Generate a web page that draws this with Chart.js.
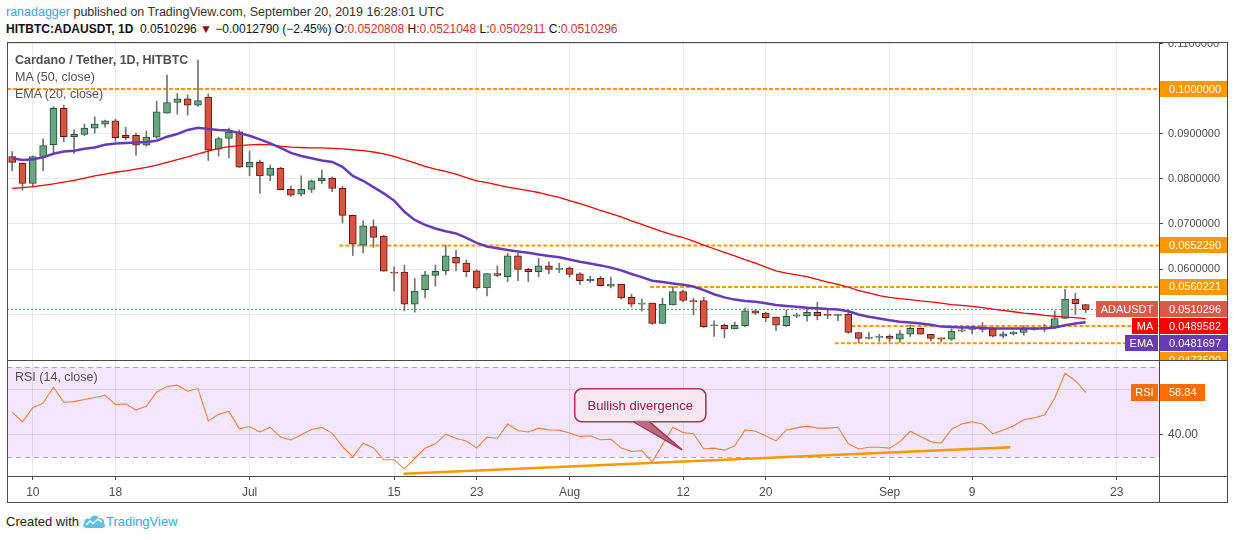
<!DOCTYPE html>
<html>
<head>
<meta charset="UTF-8">
<title>Cardano / Tether, 1D, HITBTC</title>
<script src="https://cdn.jsdelivr.net/npm/chart.js@4.4.1/dist/chart.umd.min.js"></script>
<style>
  body { margin: 0; background: #fff; font-family: "Liberation Sans", Arial, sans-serif; }
  #wrap { position: relative; width: 1234px; height: 540px; overflow: hidden; }
  .abs { position: absolute; white-space: nowrap; }
  .rd { color: #d13535; }
  .line { position: absolute; background: #4a4a4a; z-index: 5; }
  .legend { color: #505050; font-size: 12.5px; z-index: 4; }
  canvas { position: absolute; }
</style>
</head>
<body>
<div id="wrap">
  <div class="abs" style="left:6px;top:5px;font-size:12.5px;color:#333"><span style="color:#3ea6dd">ranadagger</span> published on TradingView.com, September 20, 2019 16:28:01 UTC</div>
  <div class="abs" style="left:6px;top:22px;font-size:12px;color:#111"><b>HITBTC:ADAUSDT, 1D</b>&nbsp; 0.0510296 <span style="color:#8b1010">&#9660;</span> &minus;0.0012790 (&minus;2.45%) O:<span class="rd">0.0520808</span> H:<span class="rd">0.0521048</span> L:<span class="rd">0.0502911</span> C:<span class="rd">0.0510296</span></div>

  <canvas id="priceChart" width="1221" height="318" style="left:7px;top:42px"></canvas>
  <canvas id="rsiChart" width="1221" height="143" style="left:7px;top:360px"></canvas>

  <div class="abs legend" style="left:15px;top:53px;font-weight:bold">Cardano / Tether, 1D, HITBTC</div>
  <div class="abs legend" style="left:15px;top:70px">MA (50, close)</div>
  <div class="abs legend" style="left:15px;top:87px">EMA (20, close)</div>
  <div class="abs legend" style="left:15px;top:370px">RSI (14, close)</div>

  <div class="line" style="left:7px;top:42px;width:1221px;height:1px"></div>
  <div class="line" style="left:7px;top:502px;width:1221px;height:1px"></div>
  <div class="line" style="left:7px;top:42px;width:1px;height:461px"></div>
  <div class="line" style="left:1227px;top:42px;width:1px;height:461px"></div>
  <div class="line" style="left:1159px;top:42px;width:1px;height:461px"></div>
  <div class="line" style="left:7px;top:360px;width:1221px;height:1px"></div>
  <div class="line" style="left:7px;top:476px;width:1221px;height:1px"></div>

  <div class="abs" style="left:6px;top:514px;font-size:13px;color:#222">Created with</div>
  <svg class="abs" style="left:82px;top:513px" width="24" height="16" viewBox="0 0 24 16">
    <path d="M5 15 C1 15 0 11 2.5 9.5 C2 6 5.5 4.5 8 6 C9 2 15 1 17 5 C20.5 4.5 23 7.5 22 10.5 C24 12 23 15 20 15 Z" fill="#5cc0ea"/>
    <path d="M4 12 L8 8 L11 10.5 L16 6 L20 9" stroke="#fff" stroke-width="1.6" fill="none"/>
  </svg>
  <div class="abs" style="left:106px;top:514px;font-size:13px;color:#3ea6dd">TradingView</div>
</div>

<script>
// daily candles, Jun 8 .. Sep 20 2019 (index 0 = Jun 8)
const opens = [
  0.0850, 0.0835, 0.0790, 0.0850, 0.0876, 0.0957, 0.0894, 0.0899, 0.0913, 0.0922,
  0.0929, 0.0897, 0.0897, 0.0875, 0.0893, 0.0946, 0.0970, 0.0978, 0.0964, 0.0982,
  0.0866, 0.0890, 0.0905, 0.0826, 0.0837, 0.0808, 0.0824, 0.0777, 0.0766, 0.0777,
  0.0796, 0.0802, 0.0779, 0.0719, 0.0653, 0.0694, 0.0673, 0.0593, 0.0593, 0.0522,
  0.0554, 0.0586, 0.0596, 0.0626, 0.0613, 0.0596, 0.0558, 0.0590, 0.0583, 0.0629,
  0.0599, 0.0594, 0.0607, 0.0599, 0.0602, 0.0589, 0.0574, 0.0579, 0.0562, 0.0566,
  0.0537, 0.0522, 0.0524, 0.0479, 0.0520, 0.0550, 0.0530, 0.0530, 0.0474, 0.0475,
  0.0467, 0.0474, 0.0507, 0.0502, 0.0493, 0.0474, 0.0495, 0.0496, 0.0504, 0.0499,
  0.0497, 0.0500, 0.0459, 0.0446, 0.0448, 0.0451, 0.0444, 0.0455, 0.0468, 0.0455,
  0.0447, 0.0444, 0.0462, 0.0466, 0.0469, 0.0466, 0.0451, 0.0456, 0.0459, 0.0466,
  0.0468, 0.0470, 0.0490, 0.0533, 0.0520808
];
const highs = [
  0.0861, 0.0836, 0.0851, 0.0889, 0.0961, 0.0964, 0.0909, 0.0922, 0.0938, 0.0931,
  0.0933, 0.0915, 0.0902, 0.0907, 0.0973, 0.1031, 0.0990, 0.0987, 0.1064, 0.0989,
  0.0893, 0.0913, 0.0909, 0.0862, 0.0842, 0.0831, 0.0826, 0.0784, 0.0807, 0.0798,
  0.0820, 0.0805, 0.0784, 0.0720, 0.0707, 0.0709, 0.0675, 0.0605, 0.0609, 0.0579,
  0.0595, 0.0609, 0.0653, 0.0642, 0.0620, 0.0598, 0.0590, 0.0607, 0.0635, 0.0635,
  0.0602, 0.0624, 0.0616, 0.0613, 0.0605, 0.0592, 0.0584, 0.0584, 0.0582, 0.0566,
  0.0544, 0.0533, 0.0524, 0.0535, 0.0561, 0.0553, 0.0535, 0.0537, 0.0485, 0.0478,
  0.0482, 0.0513, 0.0509, 0.0504, 0.0493, 0.0509, 0.0502, 0.0516, 0.0526, 0.0509,
  0.0500, 0.0503, 0.0459, 0.0459, 0.0455, 0.0454, 0.0463, 0.0476, 0.0469, 0.0455,
  0.0447, 0.0467, 0.0473, 0.0473, 0.0481, 0.0471, 0.0461, 0.0462, 0.0474, 0.0470,
  0.0477, 0.0507, 0.0555, 0.0546, 0.0521048
];
const lows = [
  0.0818, 0.0775, 0.0782, 0.0818, 0.0857, 0.0883, 0.0857, 0.0896, 0.0902, 0.0915,
  0.0884, 0.0887, 0.0853, 0.0873, 0.0890, 0.0946, 0.0944, 0.0942, 0.0961, 0.0841,
  0.0851, 0.0846, 0.0826, 0.0807, 0.0768, 0.0796, 0.0776, 0.0761, 0.0762, 0.0770,
  0.0790, 0.0772, 0.0702, 0.0630, 0.0636, 0.0648, 0.0595, 0.0551, 0.0507, 0.0504,
  0.0536, 0.0562, 0.0587, 0.0596, 0.0583, 0.0555, 0.0540, 0.0583, 0.0572, 0.0574,
  0.0572, 0.0583, 0.0589, 0.0592, 0.0582, 0.0566, 0.0570, 0.0562, 0.0558, 0.0533,
  0.0516, 0.0507, 0.0477, 0.0479, 0.0520, 0.0527, 0.0498, 0.0470, 0.0450, 0.0447,
  0.0467, 0.0472, 0.0499, 0.0483, 0.0463, 0.0472, 0.0492, 0.0484, 0.0487, 0.0490,
  0.0485, 0.0457, 0.0436, 0.0444, 0.0439, 0.0438, 0.0437, 0.0450, 0.0455, 0.0440,
  0.0438, 0.0441, 0.0460, 0.0456, 0.0460, 0.0449, 0.0447, 0.0453, 0.0453, 0.0464,
  0.0461, 0.0468, 0.0490, 0.0499, 0.0502911
];
const closes = [
  0.0837, 0.0790, 0.0850, 0.0874, 0.0957, 0.0894, 0.0899, 0.0913, 0.0922, 0.0929,
  0.0892, 0.0892, 0.0875, 0.0893, 0.0949, 0.0970, 0.0978, 0.0964, 0.0974, 0.0864,
  0.0890, 0.0904, 0.0826, 0.0837, 0.0807, 0.0824, 0.0776, 0.0764, 0.0777, 0.0796,
  0.0802, 0.0779, 0.0719, 0.0655, 0.0696, 0.0670, 0.0595, 0.0591, 0.0522, 0.0551,
  0.0587, 0.0595, 0.0629, 0.0613, 0.0594, 0.0558, 0.0590, 0.0586, 0.0629, 0.0599,
  0.0594, 0.0607, 0.0599, 0.0600, 0.0588, 0.0574, 0.0577, 0.0563, 0.0566, 0.0536,
  0.0522, 0.0524, 0.0479, 0.0522, 0.0550, 0.0530, 0.0527, 0.0472, 0.0476, 0.0467,
  0.0475, 0.0507, 0.0502, 0.0492, 0.0475, 0.0495, 0.0498, 0.0504, 0.0496, 0.0497,
  0.0500, 0.0459, 0.0446, 0.0448, 0.0450, 0.0446, 0.0456, 0.0468, 0.0455, 0.0446,
  0.0444, 0.0462, 0.0465, 0.0469, 0.0466, 0.0451, 0.0456, 0.0460, 0.0466, 0.0469,
  0.0470, 0.0490, 0.0533, 0.0523086, 0.0510296
];
const ma50 = [
  0.0779, 0.0781, 0.0783, 0.0786, 0.0789, 0.0793, 0.0797, 0.0802, 0.0807, 0.0811,
  0.0815, 0.0818, 0.0822, 0.0826, 0.0831, 0.0837, 0.0843, 0.0849, 0.0856, 0.0862,
  0.0868, 0.0872, 0.0874, 0.0876, 0.0877, 0.0876, 0.0873, 0.0871, 0.0870, 0.0869,
  0.0869, 0.0868, 0.0867, 0.0865, 0.0863, 0.0860, 0.0856, 0.0850, 0.0843, 0.0836,
  0.0828, 0.0822, 0.0817, 0.0811, 0.0803, 0.0796, 0.0792, 0.0787, 0.0782, 0.0778,
  0.0774, 0.0770, 0.0764, 0.0759, 0.0752, 0.0745, 0.0738, 0.0730, 0.0723, 0.0716,
  0.0707, 0.0699, 0.0691, 0.0683, 0.0676, 0.0670, 0.0662, 0.0653, 0.0645, 0.0637,
  0.0629, 0.0621, 0.0613, 0.0604, 0.0596, 0.0591, 0.0587, 0.0583, 0.0577, 0.0571,
  0.0566, 0.0560, 0.0552, 0.0547, 0.0541, 0.0537, 0.0534, 0.0532, 0.0529, 0.0527,
  0.0524, 0.0521, 0.0519, 0.0517, 0.0514, 0.0511, 0.0508, 0.0505, 0.0502, 0.0500,
  0.0497, 0.0495, 0.0493, 0.0492, 0.0489582
];
const ema20 = [
  0.0846, 0.0842, 0.0844, 0.0848, 0.0856, 0.0861, 0.0863, 0.0867, 0.0870, 0.0876,
  0.0879, 0.0880, 0.0881, 0.0882, 0.0885, 0.0894, 0.0900, 0.0909, 0.0914, 0.0911,
  0.0909, 0.0908, 0.0902, 0.0896, 0.0888, 0.0879, 0.0869, 0.0858, 0.0851, 0.0846,
  0.0841, 0.0838, 0.0827, 0.0807, 0.0796, 0.0782, 0.0768, 0.0752, 0.0727, 0.0709,
  0.0698, 0.0690, 0.0684, 0.0679, 0.0669, 0.0658, 0.0650, 0.0646, 0.0642, 0.0639,
  0.0636, 0.0632, 0.0629, 0.0626, 0.0621, 0.0616, 0.0612, 0.0608, 0.0603, 0.0597,
  0.0589, 0.0582, 0.0574, 0.0571, 0.0568, 0.0565, 0.0561, 0.0553, 0.0544, 0.0537,
  0.0532, 0.0529, 0.0527, 0.0524, 0.0520, 0.0518, 0.0516, 0.0514, 0.0513, 0.0511,
  0.0510, 0.0506, 0.0499, 0.0494, 0.0490, 0.0486, 0.0483, 0.0481, 0.0479, 0.0476,
  0.0472, 0.0471, 0.0470, 0.0470, 0.0469, 0.0468, 0.0468, 0.0468, 0.0468, 0.0468,
  0.0468, 0.0470, 0.0475, 0.0479, 0.0481697
];
const rsi14 = [
  50.0, 45.7, 52.0, 54.0, 61.1, 54.4, 54.7, 55.6, 56.5, 57.5,
  53.4, 53.7, 50.9, 52.7, 59.0, 61.4, 62.0, 59.3, 60.5, 46.1,
  49.1, 50.3, 42.6, 43.6, 41.2, 43.3, 38.9, 37.6, 39.9, 42.3,
  43.2, 40.7, 34.7, 30.1, 36.2, 34.1, 28.8, 28.8, 24.8, 29.4,
  34.0, 35.9, 40.2, 38.4, 37.2, 34.0, 38.9, 38.4, 44.7, 41.8,
  41.2, 42.9, 42.1, 42.0, 40.7, 39.2, 39.5, 37.7, 38.0, 34.0,
  32.5, 32.9, 27.9, 35.6, 43.3, 40.9, 40.4, 33.6, 34.0, 33.1,
  35.0, 42.1, 41.5, 39.5, 37.2, 42.1, 43.0, 43.8, 42.9, 42.9,
  43.3, 35.9, 33.6, 34.4, 34.4, 34.0, 36.9, 41.5, 39.2, 36.9,
  36.2, 42.4, 44.8, 45.7, 44.7, 40.4, 42.1, 44.0, 46.6, 47.5,
  48.7, 56.2, 67.3, 64.0, 58.84
];

// time axis: day index of each label
const tickDays = [2, 10, 23, 37, 45, 54, 65, 73, 85, 93, 107];
const tickLabels = ['10', '18', 'Jul', '15', '23', 'Aug', '12', '20', 'Sep', '9', '23'];
const priceTicks = [0.05, 0.06, 0.07, 0.08, 0.09, 0.10, 0.11];
const rsiTicks = [40, 60];

// drawn horizontal levels (value, first day)
const levelValues = [0.1, 0.065229, 0.0560221, 0.04735, 0.0435];
const levelStarts = [-0.5, 31.7, 61.8, 81.3, 79.7];

// RSI support line and note
const divergenceDays = [37.9, 96.7];
const divergenceRsi = [22.6, 34.4];
const noteText = 'Bullish divergence';
const note = { x0: 54.5, x1: 67.2, top: 60.4, bottom: 45.7, tipX: 64.9, tipY: 33.2 };

const X_MIN = -0.5, X_MAX = 111.1;
const GRID = 'rgba(0,0,0,0.085)';
const AXIS_TEXT = '#4c4c4c';

Chart.defaults.font.family = "'Liberation Sans', Arial, sans-serif";
Chart.defaults.font.size = 11;
Chart.defaults.color = AXIS_TEXT;

const n = closes.length;
const lastClose = closes[n - 1];
const up = opens.map((o, i) => closes[i] >= o);
const bodies = opens.map((o, i) => ({ x: i, y: [o, closes[i]] }));
const wicks = opens.map((o, i) => ({ x: i, y: [lows[i], highs[i]] }));
const maPts = ma50.map((v, i) => ({ x: i, y: v }));
const emaPts = ema20.map((v, i) => ({ x: i, y: v }));
const rsiPts = rsi14.map((v, i) => ({ x: i, y: v }));

function drawTag(ctx, x, y, w, h, bg, text, align) {
  ctx.fillStyle = bg;
  ctx.fillRect(x, Math.round(y - h / 2), w, h);
  ctx.fillStyle = '#fff';
  ctx.font = "11px 'Liberation Sans', Arial, sans-serif";
  ctx.textBaseline = 'middle';
  if (align === 'center') {
    ctx.textAlign = 'center';
    ctx.fillText(text, x + w / 2, y + 0.5);
  } else {
    ctx.textAlign = 'left';
    ctx.fillText(text, x + 9, y + 0.5);
  }
}

function nameTag(ctx, right, y, bg, text) {
  ctx.font = "11px 'Liberation Sans', Arial, sans-serif";
  const w = Math.round(ctx.measureText(text).width + 9);
  drawTag(ctx, right - w, y, w, 16, bg, text, 'center');
}

const priceTags = {
  id: 'priceTags',
  afterDraw(chart) {
    const ctx = chart.ctx;
    const y = chart.scales.y;
    const axisX = chart.chartArea.right;
    const items = levelValues.map(v => ({ v, bg: '#ff9800' }));
    items.push({ v: lastClose, bg: '#d9594b', name: 'ADAUSDT' });
    items.push({ v: ma50[n - 1], bg: '#ff0000', name: 'MA' });
    items.push({ v: ema20[n - 1], bg: '#673ab7', name: 'EMA' });
    items.sort((a, b) => b.v - a.v);
    let prev = -100;
    ctx.save();
    items.forEach(it => {
      const py = Math.max(y.getPixelForValue(it.v), prev + 17);
      prev = py;
      drawTag(ctx, axisX + 1, py, 68, 16, it.bg, it.v.toFixed(7));
      if (it.name) nameTag(ctx, axisX - 1, py, it.bg, it.name);
    });
    ctx.restore();
  }
};

const rsiDecor = {
  id: 'rsiDecor',
  beforeDraw(chart) {
    const { ctx, chartArea: a, scales: { y } } = chart;
    const y70 = y.getPixelForValue(70), y30 = y.getPixelForValue(30);
    ctx.save();
    ctx.fillStyle = '#f4e6fd';
    ctx.fillRect(a.left, y70, a.right - a.left, y30 - y70);
    ctx.restore();
  },
  beforeDatasetsDraw(chart) {
    const { ctx, chartArea: a, scales: { y } } = chart;
    ctx.save();
    ctx.strokeStyle = '#aaa3b6';
    ctx.lineWidth = 1;
    ctx.setLineDash([5, 4]);
    [70, 30].forEach(v => {
      const py = Math.round(y.getPixelForValue(v)) + 0.5;
      ctx.beginPath();
      ctx.moveTo(a.left, py);
      ctx.lineTo(a.right, py);
      ctx.stroke();
    });
    ctx.restore();
  },
  afterDraw(chart) {
    const { ctx, chartArea: a, scales: { x, y } } = chart;
    ctx.save();
    // note box with pointer
    const bx0 = x.getPixelForValue(note.x0), bx1 = x.getPixelForValue(note.x1);
    const by0 = y.getPixelForValue(note.top), by1 = y.getPixelForValue(note.bottom);
    const tx = x.getPixelForValue(note.tipX), ty = y.getPixelForValue(note.tipY);
    ctx.lineWidth = 1.6;
    ctx.strokeStyle = '#a83a55';
    ctx.fillStyle = '#f8e6f1';
    ctx.beginPath();
    ctx.roundRect(bx0, by0, bx1 - bx0, by1 - by0, 7);
    ctx.fill();
    ctx.stroke();
    const p0 = bx0 + (bx1 - bx0) * 0.45, p1 = bx0 + (bx1 - bx0) * 0.57;
    ctx.beginPath();
    ctx.moveTo(p0, by1 - 1);
    ctx.lineTo(tx, ty);
    ctx.lineTo(p1, by1 - 1);
    ctx.closePath();
    ctx.fillStyle = '#b96b80';
    ctx.fill();
    ctx.beginPath();
    ctx.moveTo(p0, by1);
    ctx.lineTo(tx, ty);
    ctx.lineTo(p1, by1);
    ctx.stroke();
    ctx.fillStyle = '#a8153f';
    ctx.font = "13px 'Liberation Sans', Arial, sans-serif";
    ctx.textAlign = 'center';
    ctx.textBaseline = 'middle';
    ctx.fillText(noteText, (bx0 + bx1) / 2, (by0 + by1) / 2 + 1);
    // value tag
    const ry = y.getPixelForValue(rsi14[n - 1]);
    drawTag(ctx, a.right + 1, ry, 45, 17, '#ff6d00', rsi14[n - 1].toFixed(2));
    ctx.font = "11px 'Liberation Sans', Arial, sans-serif";
    const w = Math.round(ctx.measureText('RSI').width + 9);
    drawTag(ctx, a.right - 1 - w, ry, w, 17, '#ff6d00', 'RSI', 'center');
    ctx.restore();
  }
};

const common = {
  responsive: false,
  animation: false,
  events: [],
  layout: { padding: 0 },
  plugins: { legend: { display: false }, tooltip: { enabled: false } }
};

new Chart(document.getElementById('priceChart'), {
  type: 'bar',
  data: {
    datasets: [
      ...levelValues.map((v, k) => ({
        type: 'line',
        data: [{ x: levelStarts[k], y: v }, { x: X_MAX, y: v }],
        borderColor: '#ff9800', borderWidth: 2, borderDash: [4, 2],
        pointRadius: 0, order: 6
      })),
      {
        type: 'line',
        data: [{ x: X_MIN, y: lastClose }, { x: X_MAX, y: lastClose }],
        borderColor: '#d0564a', borderWidth: 1, borderDash: [2, 2],
        pointRadius: 0, order: 5
      },
      {
        label: 'wicks', data: wicks, backgroundColor: '#737375',
        barThickness: 1, grouped: false, order: 4
      },
      {
        label: 'ADAUSDT', data: bodies,
        backgroundColor: up.map(u => u ? '#6ba583' : '#d75442'),
        borderColor: up.map(u => u ? '#225437' : '#5b1a13'),
        borderWidth: 1, borderSkipped: false, barThickness: 7, minBarLength: 1,
        grouped: false, order: 3
      },
      {
        type: 'line', label: 'MA (50, close)', data: maPts,
        borderColor: '#ff0000', borderWidth: 1.3, pointRadius: 0, order: 1
      },
      {
        type: 'line', label: 'EMA (20, close)', data: emaPts,
        borderColor: '#673ab7', borderWidth: 2.5, pointRadius: 0, order: 0
      }
    ]
  },
  options: {
    ...common,
    scales: {
      x: {
        type: 'linear', min: X_MIN, max: X_MAX, offset: false,
        grid: { color: GRID, drawTicks: false, offset: false },
        border: { display: false },
        ticks: { display: false },
        afterBuildTicks: s => { s.ticks = tickDays.map(v => ({ value: v })); },
        afterFit: s => { s.height = 0; s.paddingLeft = 0; s.paddingRight = 0; }
      },
      y: {
        position: 'right', min: 0.03978, max: 0.11044,
        grid: { color: GRID, tickLength: 4, tickColor: '#4a4a4a' },
        border: { display: false },
        ticks: { padding: 5, callback: v => v.toFixed(7) },
        afterBuildTicks: s => { s.ticks = priceTicks.map(v => ({ value: v })); },
        afterFit: s => { s.width = 69; s.paddingTop = 0; s.paddingBottom = 0; }
      }
    }
  },
  plugins: [priceTags]
});

new Chart(document.getElementById('rsiChart'), {
  type: 'line',
  data: {
    datasets: [
      {
        label: 'RSI (14, close)', data: rsiPts,
        borderColor: '#f7803d', borderWidth: 1.1, pointRadius: 0, order: 1
      },
      {
        label: 'support', data: divergenceDays.map((d, k) => ({ x: d, y: divergenceRsi[k] })),
        borderColor: '#ff9800', borderWidth: 2.5, pointRadius: 0, order: 0
      }
    ]
  },
  options: {
    ...common,
    scales: {
      x: {
        type: 'linear', min: X_MIN, max: X_MAX, offset: false,
        grid: { color: GRID, tickLength: 4, tickColor: '#4a4a4a' },
        border: { display: false },
        ticks: { padding: 5, autoSkip: false, maxRotation: 0, font: { size: 12 },
                 callback: (v, i) => tickLabels[i] },
        afterBuildTicks: s => { s.ticks = tickDays.map(v => ({ value: v })); },
        afterFit: s => { s.height = 27; s.paddingLeft = 0; s.paddingRight = 0; }
      },
      y: {
        position: 'right', min: 21.6, max: 73.2,
        grid: { color: GRID, tickLength: 4, tickColor: '#4a4a4a' },
        border: { display: false },
        ticks: { padding: 5, font: { size: 12 }, callback: v => v.toFixed(2) },
        afterBuildTicks: s => { s.ticks = rsiTicks.map(v => ({ value: v })); },
        afterFit: s => { s.width = 69; s.paddingTop = 0; s.paddingBottom = 0; }
      }
    }
  },
  plugins: [rsiDecor]
});
</script>
</body>
</html>
